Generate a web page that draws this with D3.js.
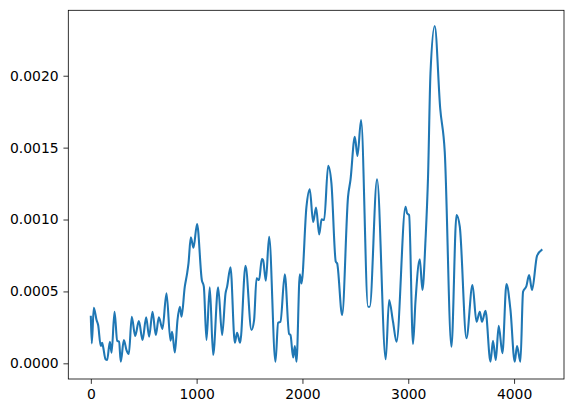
<!DOCTYPE html>
<html>
<head>
<meta charset="utf-8">
<script src="https://cdn.jsdelivr.net/npm/d3@7"></script>
<style>
  html, body { margin: 0; padding: 0; background: #fff; }
  svg { display: block; }
</style>
</head>
<body>
<svg id="chart" width="573" height="413"></svg>
<script>
// Sample positions (x) and values (y)
const xValues = [0, 9, 28, 54, 69, 94, 107, 116, 139, 154, 180, 196, 224, 249, 267, 283, 312, 337, 359, 387,
  419, 454, 489, 523, 551, 583, 614, 643, 677, 715, 753, 768, 794, 819, 841, 857, 888, 910, 923, 945,
  970, 1004, 1049, 1068, 1093, 1124, 1156, 1203, 1241, 1273, 1288, 1320, 1361, 1382, 1411, 1462, 1518, 1543, 1566, 1590,
  1616, 1628, 1654, 1685, 1745, 1770, 1792, 1833, 1874, 1887, 1912, 1928, 1944, 1975, 1991, 2038, 2069, 2101, 2129, 2158,
  2181, 2205, 2243, 2274, 2315, 2328, 2375, 2431, 2454, 2495, 2520, 2554, 2620, 2636, 2705, 2787, 2819, 2856, 2889, 2974,
  2989, 3008, 3045, 3068, 3109, 3134, 3163, 3187, 3210, 3250, 3302, 3345, 3408, 3456, 3487, 3550, 3607, 3645, 3676, 3697,
  3730, 3777, 3801, 3827, 3855, 3890, 3928, 3966, 4006, 4028, 4060, 4085, 4117, 4142, 4170, 4217, 4259];
const yValues = [3.24, 1.39, 3.87, 3.01, 2.66, 1.20, 1.43, 1.15, 0.28, 0.23, 1.50, 0.74, 3.59, 1.57, 1.50, 0.11, 1.62, 0.92, 0.65, 3.24,
  1.90, 2.94, 1.62, 3.20, 1.85, 3.59, 1.97, 3.20, 2.39, 4.87, 1.57, 2.20, 0.76, 3.01, 3.94, 3.24, 5.33, 6.26, 6.95, 8.76,
  8.04, 9.69, 5.79, 5.33, 1.62, 5.29, 0.58, 5.29, 1.97, 4.87, 5.33, 6.68, 1.43, 2.13, 1.43, 6.79, 2.32, 3.01, 5.91, 5.79,
  7.25, 7.18, 5.74, 8.80, 0.11, 2.82, 2.89, 6.19, 2.04, 1.97, 0.40, 1.20, 0.11, 6.19, 5.55, 10.89, 12.10, 9.83, 10.83, 8.96,
  10.01, 9.97, 13.74, 12.52, 7.07, 6.95, 3.36, 11.59, 12.75, 15.76, 14.42, 16.92, 3.94, 3.94, 12.80, 0.28, 4.40, 2.89, 1.50, 10.89,
  10.43, 10.31, 1.34, 4.28, 7.23, 5.10, 8.57, 12.97, 20.17, 23.46, 17.72, 14.69, 1.15, 10.31, 9.50, 1.74, 5.44, 2.89, 3.59, 2.89,
  3.66, 0.11, 1.57, 0.23, 2.61, 0.70, 5.51, 3.71, 0.11, 1.20, 0.11, 4.98, 5.38, 6.14, 5.10, 7.48, 7.88].map(v => v * 1e-4);
const xTicks = [0, 1000, 2000, 3000, 4000];
const yTicks = [0.0000, 0.0005, 0.0010, 0.0015, 0.0020];

const svg = d3.select("#chart");
const plot = { left: 68.3, right: 564, top: 10.3, bottom: 379 };

// matplotlib-style 5% margins around the data extent
const xExt = d3.extent(xValues);
const xPad = (xExt[1] - xExt[0]) * 0.05;
const x = d3.scaleLinear().domain([xExt[0] - xPad, xExt[1] + xPad]).range([plot.left, plot.right]);
const y = d3.scaleLinear().domain([-0.000109, 0.002455]).range([plot.bottom, plot.top]);

const font = "DejaVu Sans, sans-serif";
const tickLen = 4.86, tickPad = 4.86;

const xAxis = svg.append("g")
  .attr("transform", `translate(0,${plot.bottom})`)
  .call(d3.axisBottom(x).tickValues(xTicks).tickFormat(d3.format("d")).tickSizeOuter(0).tickSize(tickLen).tickPadding(tickPad));
const yAxis = svg.append("g")
  .attr("transform", `translate(${plot.left},0)`)
  .call(d3.axisLeft(y).tickValues(yTicks).tickFormat(d3.format(".4f")).tickSizeOuter(0).tickSize(tickLen).tickPadding(tickPad));

[xAxis, yAxis].forEach(a => {
  a.select(".domain").remove();
  a.selectAll("line").attr("stroke", "#000").attr("stroke-width", 0.8);
  a.selectAll("text").attr("font-family", font).attr("font-size", "13.9px").attr("fill", "#000");
});

const line = d3.line()
  .x((d, i) => x(xValues[i]))
  .y((d, i) => y(yValues[i]))
  .curve(d3.curveMonotoneX);

svg.append("path")
  .datum(xValues)
  .attr("d", line)
  .attr("fill", "none")
  .attr("stroke", "#1f77b4")
  .attr("stroke-width", 2.08)
  .attr("stroke-linejoin", "round")
  .attr("stroke-linecap", "square");

svg.append("rect")
  .attr("x", plot.left).attr("y", plot.top)
  .attr("width", plot.right - plot.left).attr("height", plot.bottom - plot.top)
  .attr("fill", "none").attr("stroke", "#000").attr("stroke-width", 0.8);
</script>
</body>
</html>
